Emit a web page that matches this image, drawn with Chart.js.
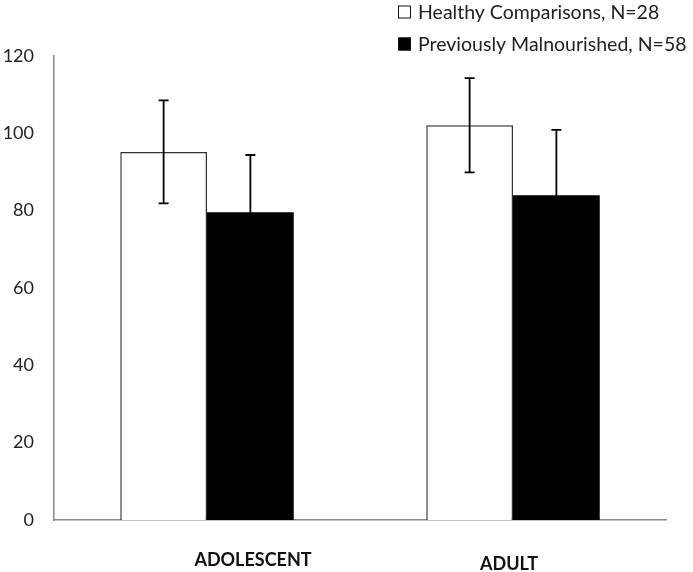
<!DOCTYPE html>
<html>
<head>
<meta charset="utf-8">
<script src="https://cdn.jsdelivr.net/npm/chart.js@4.4.0/dist/chart.umd.min.js"></script>
<style>
  html, body { margin: 0; padding: 0; background: #fff; }
  #wrap { width: 693px; height: 572px; }
</style>
</head>
<body>
<div id="wrap"><canvas id="chart"></canvas></div>
<script>
const categories = ["ADOLESCENT", "ADULT"];
const healthyValues = [95.2, 102.1];
const healthyErrors = [13.3, 12.2];
const malnourishedValues = [79.6, 84.0];
const malnourishedErrors = [14.8, 16.9];
const seriesLabels = ["Healthy Comparisons, N=28", "Previously Malnourished, N=58"];
const yTicks = [0, 20, 40, 60, 80, 100, 120];

const FONT = "Lato, 'Open Sans', sans-serif";

// error bars drawn over the bars
const errorBars = {
    id: 'errorBars',
    afterDatasetsDraw(chart) {
        const ctx = chart.ctx;
        const y = chart.scales.y;
        chart.data.datasets.forEach((ds, i) => {
            const meta = chart.getDatasetMeta(i);
            meta.data.forEach((bar, j) => {
                const v = ds.data[j], e = ds.errors[j];
                const top = y.getPixelForValue(v + e);
                const bot = y.getPixelForValue(v - e);
                ctx.save();
                ctx.strokeStyle = '#000';
                ctx.lineWidth = 1.8;
                ctx.beginPath();
                ctx.moveTo(bar.x, top); ctx.lineTo(bar.x, bot);
                ctx.moveTo(bar.x - 5, top); ctx.lineTo(bar.x + 5, top);
                ctx.moveTo(bar.x - 5, bot); ctx.lineTo(bar.x + 5, bot);
                ctx.stroke();
                ctx.restore();
            });
        });
    }
};

// category labels sit a bit off the group centres in the original
const labelShift = [[46, 560], [-4, 564]];
const catLabels = {
    id: 'catLabels',
    afterDraw(chart) {
        const ctx = chart.ctx;
        const x = chart.scales.x;
        ctx.save();
        ctx.font = "bold 18px " + FONT;
        ctx.fillStyle = '#111';
        ctx.textAlign = 'center';
        ctx.textBaseline = 'middle';
        categories.forEach((c, i) => {
            ctx.fillText(c, x.getPixelForValue(i) + labelShift[i][0], labelShift[i][1]);
        });
        ctx.restore();
    }
};

const boxLegend = {
    id: 'boxLegend',
    afterDraw(chart) {
        const ctx = chart.ctx;
        ctx.save();
        ctx.font = "19.5px " + FONT;
        ctx.textBaseline = 'middle';
        chart.data.datasets.forEach((ds, i) => {
            const cy = 12 + i * 32;
            ctx.fillStyle = ds.backgroundColor;
            ctx.fillRect(398, cy - 6.5, 13, 13);
            ctx.strokeStyle = '#111';
            ctx.lineWidth = 1;
            ctx.strokeRect(398.5, cy - 6, 12, 12);
            ctx.fillStyle = '#222';
            ctx.fillText(ds.label, 418, cy + 1);
        });
        ctx.restore();
    }
};

new Chart(document.getElementById('chart'), {
    type: 'bar',
    data: {
        labels: categories,
        datasets: [{
            label: seriesLabels[0],
            data: healthyValues,
            errors: healthyErrors,
            backgroundColor: '#ffffff',
            borderColor: '#333',
            borderWidth: 1.5,
            borderSkipped: 'bottom'
        }, {
            label: seriesLabels[1],
            data: malnourishedValues,
            errors: malnourishedErrors,
            backgroundColor: '#000000',
            borderWidth: 0
        }]
    },
    options: {
        responsive: true,
        maintainAspectRatio: false,
        animation: false,
        categoryPercentage: 0.567,
        barPercentage: 1,
        layout: { padding: { top: 56, right: 27, left: 0, bottom: 0 } },
        plugins: {
            legend: { display: false },
            tooltip: { enabled: false }
        },
        scales: {
            x: {
                grid: { display: false, drawTicks: false },
                border: { display: true, color: '#888', width: 1.5 },
                ticks: { display: false },
                afterFit: (s) => { s.height = 52; }
            },
            y: {
                min: 0,
                max: 120,
                afterBuildTicks: (s) => { s.ticks = yTicks.map(v => ({ value: v })); },
                grid: { display: false, drawTicks: false },
                border: { display: true, color: '#888', width: 1.5 },
                ticks: {
                    padding: 20,
                    color: '#222',
                    font: { family: FONT, size: 18 }
                },
                afterFit: (s) => { s.width = 54; }
            }
        }
    },
    plugins: [errorBars, catLabels, boxLegend]
});
</script>
</body>
</html>
